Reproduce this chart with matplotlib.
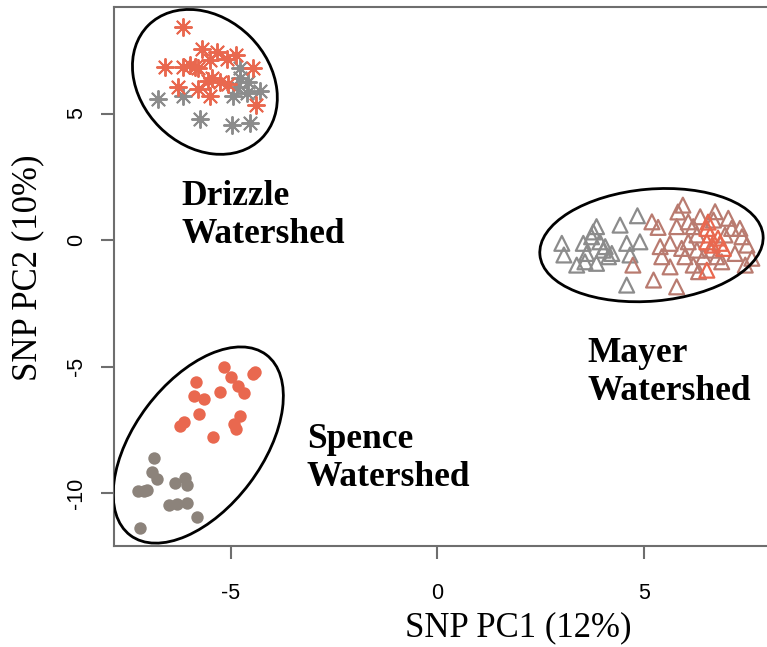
import matplotlib
matplotlib.use("Agg")
import matplotlib.pyplot as plt
from matplotlib.patches import Ellipse
from matplotlib.transforms import ScaledTranslation

plt.rcParams["font.family"] = ["Liberation Sans", "DejaVu Sans"]
plt.rcParams["xtick.labelsize"] = 15.5
plt.rcParams["ytick.labelsize"] = 15.5
plt.rcParams["axes.unicode_minus"] = False

# ---------------- data ----------------
# Drizzle watershed (asterisks)
drizzle_red_x = [-6.16, -6.60, -6.16, -5.70, -5.34, -4.88, -5.10, -5.51, -5.87, -5.80,
                 -5.99, -4.47, -5.46, -5.56, -5.27, -5.07, -6.28, -5.80, -5.51, -4.39]
drizzle_red_y = [8.40, 6.82, 6.82, 7.57, 7.45, 7.33, 7.17, 7.13, 6.82, 6.78,
                 6.90, 6.78, 6.42, 6.30, 6.23, 6.15, 6.03, 5.95, 5.71, 5.32]
drizzle_gray_x = [-4.78, -6.16, -4.85, -4.59, -4.61, -4.30, -4.95, -6.77, -5.75, -4.98, -4.54, -4.78]
drizzle_gray_y = [6.78, 5.71, 6.03, 6.23, 5.83, 5.91, 5.71, 5.59, 4.80, 4.53, 4.64, 6.42]

# Spence watershed (filled circles)
spence_red_x = [-5.17, -5.01, -4.42, -5.85, -5.27, -4.82, -4.69, -5.89, -5.65, -5.77,
                -6.13, -6.23, -4.77, -4.92, -4.88, -5.44, -4.46]
spence_red_y = [-5.03, -5.40, -5.22, -5.62, -6.00, -5.77, -6.04, -6.17, -6.30, -6.88,
                -7.18, -7.35, -6.96, -7.25, -7.48, -7.77, -5.30]
spence_gray_x = [-6.86, -6.92, -6.78, -6.36, -6.11, -6.06, -7.24, -7.11, -7.03,
                 -6.50, -6.30, -6.07, -5.83, -7.19]
spence_gray_y = [-8.60, -9.16, -9.46, -9.59, -9.42, -9.68, -9.91, -9.92, -9.88,
                 -10.47, -10.43, -10.38, -10.96, -11.36]

# Mayer watershed (open triangles)
mayer_gray_x = [3.01, 3.06, 3.85, 3.53, 3.73, 3.93, 3.61, 3.37, 3.57, 3.85,
                4.06, 4.14, 4.22, 4.01, 4.42, 4.84, 4.58, 4.90, 4.66, 4.58, 3.77]
mayer_gray_y = [-0.13, -0.59, 0.53, -0.13, 0.13, -0.07, -0.53, -0.99, -0.86, -0.92,
                -0.26, -0.66, -0.53, -0.40, 0.59, 0.96, -0.13, -0.07, -0.59, -1.78, 0.32]
mayer_rose_x = [5.23, 5.19, 4.73, 5.34, 5.39, 5.43, 5.63, 5.63, 5.79, 5.79,
                5.82, 5.94, 5.91, 5.99, 6.07, 6.07, 6.19, 6.19, 6.28, 6.28,
                6.32, 6.36, 6.44, 6.72, 6.68, 7.04, 7.12, 7.32, 6.96, 7.37,
                7.20, 6.76, 6.88, 7.45, 7.61, 7.49, 6.64]
mayer_rose_y = [-1.58, 0.72, -0.99, 0.50, -0.26, -0.66, -0.13, -1.06, 0.53, -1.85,
                1.11, 1.38, -0.33, -0.66, 0.72, -0.07, 0.53, -0.99, 0.20, -0.40,
                -1.25, 0.92, -0.66, 1.12, 0.79, 0.86, 0.46, 0.46, 0.20, 0.13,
                -0.53, -0.66, -0.86, -0.99, -0.72, -0.20, -0.40]
mayer_red_x = [6.52, 6.60, 6.84, 6.92, 6.52, 6.55, 6.65, 6.79, 6.52]
mayer_red_y = [0.46, 0.20, -0.13, -0.33, -1.19, 0.71, -0.20, 0.08, -0.07]

x_ticks = [-5, 0, 5]
y_ticks = [-10, -5, 0, 5]
x_label = "SNP PC1 (12%)"
y_label = "SNP PC2 (10%)"
group_names = ["Drizzle\nWatershed", "Spence\nWatershed", "Mayer\nWatershed"]

# ---------------- styling ----------------
RED = "#E9684F"
GRAY = "#8C8C8C"
ROSE = "#B97B70"
BROWNGRAY = "#8C837B"
SPINE = "#6E6E6E"

fig = plt.figure(figsize=(7.67, 6.47), dpi=100)
ax = fig.add_axes([114 / 767, 101 / 647, 661 / 767, 539 / 647])
ax.set_xlim(-7.83, 8.17)
ax.set_ylim(-12.09, 9.21)

# Drizzle asterisks
ast = (8, 2, 0)
ax.scatter(drizzle_gray_x, drizzle_gray_y, marker=ast, s=150, color=GRAY, linewidths=1.4, zorder=3)
ax.scatter(drizzle_red_x, drizzle_red_y, marker=ast, s=150, color=RED, linewidths=1.4, zorder=4)

# Spence circles
ax.scatter(spence_gray_x, spence_gray_y, marker="o", s=80, color=BROWNGRAY, linewidths=0, zorder=3)
ax.scatter(spence_red_x, spence_red_y, marker="o", s=80, color=RED, linewidths=0, zorder=4)

# Mayer triangles
ax.scatter(mayer_gray_x, mayer_gray_y, marker="^", s=115, facecolors="none",
           edgecolors=GRAY, linewidths=1.6, zorder=3)
ax.scatter(mayer_rose_x, mayer_rose_y, marker="^", s=115, facecolors="none",
           edgecolors=ROSE, linewidths=1.6, zorder=4)
ax.scatter(mayer_red_x, mayer_red_y, marker="^", s=115, facecolors="none",
           edgecolors=RED, linewidths=1.6, zorder=5)

# Ellipses: center in data units, size in pixels (100 px = 1 inch)
ellipses = [
    ((-5.63, 6.25), 160, 128, 135),
    ((-5.79, -8.10), 226, 128, 53),
    ((5.18, -0.20), 224, 112, 5),
]
for (cx, cy), w, h, ang in ellipses:
    e = Ellipse((0, 0), w / 100, h / 100, angle=ang, fill=False, edgecolor="black", linewidth=2.0,
                transform=fig.dpi_scale_trans + ScaledTranslation(cx, cy, ax.transData), zorder=6)
    ax.add_patch(e)

# Group labels
label_font = dict(family="Liberation Serif", fontweight="bold", fontsize=25.5,
                  ha="left", va="center", multialignment="left", linespacing=1.2)
ax.text(-6.19, 0.99, group_names[0], **label_font)
ax.text(-3.16, -8.62, group_names[1], **label_font)
ax.text(3.64, -5.22, group_names[2], **label_font)

# Axes styling
for sp in ax.spines.values():
    sp.set_color(SPINE)
    sp.set_linewidth(1.5)
ax.set_xticks(x_ticks)
ax.set_yticks(y_ticks)
ax.tick_params(axis="both", length=9.5, width=1.5, color=SPINE)
ax.tick_params(axis="x", pad=17)
ax.tick_params(axis="y", pad=10)
for lab in ax.get_yticklabels():
    lab.set_rotation(90)
    lab.set_va("center")

ax.set_xlabel(x_label, family="Liberation Serif", fontsize=25)
ax.xaxis.set_label_coords((518 - 114) / 661, -(628 - 546) / 539)
ax.xaxis.label.set_va("center")
ax.set_ylabel(y_label, family="Liberation Serif", fontsize=25)
ax.yaxis.set_label_coords(-(114 - 28) / 661, (546 - 268) / 539)
ax.yaxis.label.set_va("center")

fig.savefig("out.png", dpi=100)
